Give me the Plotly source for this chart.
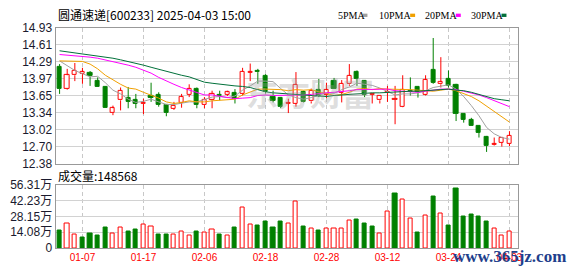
import plotly.graph_objects as go

# ---------------- data ----------------
dates = ["01-02", "01-03", "01-06", "01-07", "01-08", "01-09", "01-10", "01-13", "01-14", "01-15",
         "01-16", "01-17", "01-20", "01-21", "01-22", "01-23", "01-24", "01-27", "02-05", "02-06",
         "02-07", "02-10", "02-11", "02-12", "02-13", "02-14", "02-17", "02-18", "02-19", "02-20",
         "02-21", "02-24", "02-25", "02-26", "02-27", "02-28", "03-03", "03-04", "03-05", "03-06",
         "03-07", "03-10", "03-11", "03-12", "03-13", "03-14", "03-17", "03-18", "03-19", "03-20",
         "03-21", "03-24", "03-25", "03-26", "03-27", "03-28", "03-31", "04-01", "04-02", "04-03"]

opens = [14.20, 13.79, 14.04, 14.07, 14.09, 13.93, 13.82, 13.33, 13.57, 13.62,
         13.57, 13.50, 13.66, 13.67, 13.48, 13.41, 13.53, 13.67, 13.79, 13.48,
         13.57, 13.68, 13.68, 13.71, 13.69, 14.09, 14.12, 14.02, 13.64, 13.61,
         13.50, 13.51, 13.73, 13.55, 13.77, 13.67, 13.93, 13.71, 13.87, 14.10,
         13.93, 13.67, 13.57, 13.71, 13.58, 13.45, 13.74, 13.82, 13.68, 14.15,
         13.87, 13.97, 13.85, 13.31, 13.20, 13.08, 12.88, 12.73, 12.77, 12.75]
highs = [14.25, 14.16, 14.27, 14.18, 14.12, 14.00, 13.83, 13.47, 13.81, 13.82,
         13.69, 13.60, 13.90, 13.72, 13.48, 13.54, 13.69, 13.87, 13.81, 13.63,
         13.75, 13.75, 13.75, 13.78, 14.18, 14.26, 14.16, 14.06, 13.75, 13.63,
         13.60, 14.10, 13.75, 13.79, 13.97, 13.90, 13.99, 13.95, 14.25, 14.13,
         13.95, 13.69, 13.66, 13.84, 13.84, 14.04, 14.00, 13.82, 14.04, 14.74,
         14.38, 14.13, 13.88, 13.31, 13.24, 13.09, 12.90, 12.87, 12.87, 12.99]
lows = [13.69, 13.77, 13.93, 13.88, 13.84, 13.82, 13.42, 13.29, 13.38, 13.42,
        13.42, 13.31, 13.54, 13.45, 13.27, 13.39, 13.43, 13.63, 13.42, 13.42,
        13.42, 13.57, 13.65, 13.51, 13.66, 13.93, 13.88, 13.70, 13.53, 13.42,
        13.33, 13.45, 13.53, 13.51, 13.63, 13.61, 13.79, 13.53, 13.84, 13.84,
        13.63, 13.51, 13.51, 13.54, 13.12, 13.44, 13.66, 13.62, 13.66, 13.88,
        13.81, 13.81, 13.18, 13.15, 13.09, 12.87, 12.60, 12.72, 12.70, 12.71]
closes = [13.78, 14.04, 14.13, 14.10, 14.02, 13.82, 13.42, 13.42, 13.75, 13.54,
          13.51, 13.53, 13.62, 13.48, 13.33, 13.47, 13.63, 13.78, 13.48, 13.57,
          13.69, 13.66, 13.72, 13.60, 14.11, 14.10, 14.10, 13.72, 13.56, 13.45,
          13.52, 13.86, 13.54, 13.75, 13.66, 13.76, 13.79, 13.88, 14.03, 13.97,
          13.67, 13.69, 13.66, 13.73, 13.60, 13.76, 13.72, 13.72, 13.95, 13.90,
          13.91, 13.84, 13.32, 13.21, 13.09, 12.96, 12.71, 12.74, 12.86, 12.91]

ma5 = [14.31, 14.22, 14.13, 14.07, 14.01, 14.02, 13.90, 13.76, 13.69, 13.59,
       13.53, 13.55, 13.59, 13.54, 13.49, 13.49, 13.51, 13.54, 13.54, 13.59,
       13.63, 13.64, 13.62, 13.65, 13.76, 13.84, 13.93, 13.93, 13.92, 13.79,
       13.67, 13.62, 13.59, 13.62, 13.67, 13.71, 13.70, 13.77, 13.82, 13.89,
       13.87, 13.85, 13.80, 13.74, 13.67, 13.69, 13.69, 13.71, 13.75, 13.81,
       13.84, 13.86, 13.78, 13.64, 13.47, 13.28, 13.06, 12.94, 12.87, 12.84]
ma10 = [14.31, 14.31, 14.31, 14.30, 14.25, 14.16, 14.04, 13.95, 13.87, 13.80,
        13.78, 13.72, 13.67, 13.61, 13.54, 13.51, 13.53, 13.56, 13.54, 13.54,
        13.56, 13.57, 13.58, 13.59, 13.67, 13.73, 13.78, 13.78, 13.78, 13.77,
        13.75, 13.77, 13.76, 13.77, 13.73, 13.69, 13.66, 13.68, 13.72, 13.78,
        13.79, 13.77, 13.79, 13.78, 13.78, 13.78, 13.77, 13.76, 13.75, 13.74,
        13.76, 13.78, 13.75, 13.69, 13.64, 13.56, 13.46, 13.36, 13.25, 13.16]
ma20 = [14.43, 14.42, 14.41, 14.40, 14.38, 14.36, 14.33, 14.30, 14.26, 14.23,
        14.19, 14.14, 14.08, 14.00, 13.93, 13.87, 13.81, 13.76, 13.71, 13.67,
        13.67, 13.65, 13.63, 13.60, 13.61, 13.62, 13.66, 13.67, 13.66, 13.66,
        13.66, 13.67, 13.67, 13.68, 13.70, 13.71, 13.72, 13.73, 13.75, 13.77,
        13.77, 13.77, 13.77, 13.78, 13.75, 13.74, 13.72, 13.72, 13.74, 13.76,
        13.78, 13.78, 13.77, 13.74, 13.71, 13.67, 13.62, 13.56, 13.50, 13.45]
ma30 = [14.50, 14.48, 14.46, 14.44, 14.43, 14.41, 14.38, 14.36, 14.33, 14.30,
        14.27, 14.23, 14.19, 14.15, 14.11, 14.07, 14.04, 14.01, 13.96, 13.91,
        13.89, 13.87, 13.85, 13.84, 13.83, 13.81, 13.77, 13.73, 13.71, 13.70,
        13.70, 13.69, 13.67, 13.66, 13.65, 13.64, 13.66, 13.67, 13.68, 13.70,
        13.70, 13.71, 13.71, 13.72, 13.73, 13.74, 13.74, 13.74, 13.75, 13.76,
        13.77, 13.78, 13.76, 13.75, 13.72, 13.68, 13.63, 13.60, 13.58, 13.56]

# volume in 万 (10k)
volumes = [15.3, 21.9, 11.7, 9.4, 12.8, 11.1, 18.6, 12.8, 18.3, 14.7,
           16.1, 21.1, 19.4, 11.9, 11.9, 11.9, 14.4, 11.1, 14.7, 13.6,
           16.1, 11.9, 11.1, 18.0, 36.1, 21.1, 20.3, 23.6, 18.0, 23.6,
           21.9, 41.1, 19.4, 17.8, 15.5, 17.8, 17.8, 17.8, 24.4, 25.3,
           22.2, 19.4, 12.8, 32.2, 48.0, 43.3, 25.8, 13.9, 28.6, 45.5,
           30.8, 20.3, 52.8, 27.8, 29.4, 27.8, 23.6, 17.5, 11.1, 14.86]
# 1 = red (up vs previous close), 0 = green
vol_up = [0, 1, 1, 0, 0, 0, 0, 1, 1, 0,
          0, 1, 1, 0, 0, 1, 1, 1, 0, 1,
          1, 0, 1, 0, 1, 1, 0, 0, 0, 0,
          1, 1, 0, 1, 0, 1, 1, 1, 1, 0,
          0, 0, 1, 1, 0, 1, 1, 0, 1, 0,
          1, 0, 0, 0, 0, 0, 0, 1, 1, 1]

tick_every = 8
tick_first = 3
price_tick_labels = ["12.38", "12.70", "13.02", "13.34", "13.65", "13.97", "14.29", "14.61", "14.93"]
price_min, price_max = 12.38, 14.93
vol_tick_labels = ["0", "14.08万", "28.15万", "42.23万", "56.31万"]
vol_max = 56.31

title_text = "圆通速递[600233] 2025-04-03 15:00"
vol_title = "成交量:148568"
ma_names = ["5PMA", "10PMA", "20PMA", "30PMA"]

# ---------------- styles ----------------
RED = "#ff0000"
GREEN = "#008000"
MA_COLORS = ["#a0a0a0", "#f0a000", "#ff00ff", "#00703a"]
GRID = "#d2d2d2"
FRAME = "#999999"
LABEL = "#1a1a2e"

W, H = 578, 276
PX_L, PX_R = 56, 522
P_TOP, P_BOT = 22, 165
V_TOP, V_BOT = 187, 254


def fy(px):
    return (H - px) / H


n = len(dates)
idx = list(range(n))
up = [c >= o for o, c in zip(opens, closes)]

fig = go.Figure()

# wicks (split above and below the body so hollow bodies stay empty)
for want_up, col in ((True, RED), (False, GREEN)):
    wx, wy = [], []
    for i in idx:
        if up[i] != want_up:
            continue
        top = max(opens[i], closes[i])
        bot = min(opens[i], closes[i])
        wx += [i, i, None, i, i, None]
        wy += [highs[i], top, None, bot, lows[i], None]
    fig.add_trace(go.Scatter(x=wx, y=wy, mode="lines", line=dict(color=col, width=1),
                             hoverinfo="skip", xaxis="x", yaxis="y"))

# bodies
body_base = [min(o, c) for o, c in zip(opens, closes)]
body_h = [max(abs(c - o), 0.012) for o, c in zip(opens, closes)]
fig.add_trace(go.Bar(x=idx, y=body_h, base=body_base, width=0.55,
                     marker=dict(color=["white" if u else GREEN for u in up],
                                 line=dict(color=[RED if u else GREEN for u in up], width=1)),
                     xaxis="x", yaxis="y"))

# moving averages
for name, vals, col in zip(ma_names, [ma5, ma10, ma20, ma30], MA_COLORS):
    fig.add_trace(go.Scatter(x=idx, y=vals, mode="lines", name=name,
                             line=dict(color=col, width=1), xaxis="x", yaxis="y"))

# volume
fig.add_trace(go.Bar(x=idx, y=volumes, width=0.55,
                     marker=dict(color=["white" if u else GREEN for u in vol_up],
                                 line=dict(color=[RED if u else GREEN for u in vol_up], width=1)),
                     xaxis="x2", yaxis="y2"))

tick_idx = list(range(tick_first, n, tick_every))
tick_txt = [dates[i] for i in tick_idx]
step = (price_max - price_min) / (len(price_tick_labels) - 1)
price_ticks = [price_min + k * step for k in range(len(price_tick_labels))]
vstep = vol_max / (len(vol_tick_labels) - 1)
vol_ticks = [k * vstep for k in range(len(vol_tick_labels))]

xrange = [-0.52, n + 0.17]
xdom = [PX_L / W, PX_R / W]
common_x = dict(domain=xdom, range=xrange, tickvals=tick_idx, showgrid=True,
                gridcolor="#c8c8c8", griddash="4px,3px", gridwidth=1, zeroline=False,
                showline=True, mirror=True, linecolor=FRAME, linewidth=1, ticks="",
                fixedrange=True)

fig.update_layout(
    width=W, height=H, margin=dict(l=0, r=0, t=0, b=0),
    paper_bgcolor="white", plot_bgcolor="white", showlegend=False,
    barmode="overlay", bargap=0,
    xaxis=dict(**common_x, anchor="y", showticklabels=False),
    yaxis=dict(domain=[fy(P_BOT), fy(P_TOP)], range=[price_min, price_max],
               tickvals=price_ticks, ticktext=price_tick_labels, showgrid=True,
               gridcolor=GRID, gridwidth=1, zeroline=False, showline=True, mirror=True,
               linecolor=FRAME, linewidth=1, ticks="",
               tickfont=dict(family="Liberation Sans, Arial", size=12, color=LABEL),
               anchor="x"),
    xaxis2=dict(**common_x, anchor="y2", ticktext=tick_txt, showticklabels=True,
                tickfont=dict(family="Liberation Sans, Arial", size=10, color=RED)),
    yaxis2=dict(domain=[fy(V_BOT), fy(V_TOP)], range=[0, vol_max],
                tickvals=vol_ticks, ticktext=vol_tick_labels, showgrid=True,
                gridcolor=GRID, gridwidth=1, zeroline=False, showline=True, mirror=True,
                linecolor=FRAME, linewidth=1, ticks="",
                tickfont=dict(family="Liberation Sans, Noto Sans CJK SC", size=12, color=LABEL),
                anchor="x2"),
)

annotations = [
    dict(text=title_text, x=PX_L / W, y=fy(8), xref="paper", yref="paper",
         xanchor="left", yanchor="middle", showarrow=False,
         font=dict(family="Noto Sans CJK SC", size=12, color="black")),
    dict(text=vol_title, x=PX_L / W, y=fy(177), xref="paper", yref="paper",
         xanchor="left", yanchor="middle", showarrow=False,
         font=dict(family="Noto Sans CJK SC", size=12, color="black")),
    dict(text="<b>东方财富</b>", x=312 / W, y=fy(90), xref="paper", yref="paper",
         xanchor="center", yanchor="middle", showarrow=False,
         font=dict(family="Noto Sans CJK SC", size=32, color="rgba(160,160,160,0.35)")),
    dict(text="<b>www.365jz.com</b>", x=513 / W, y=fy(263), xref="paper", yref="paper",
         xanchor="center", yanchor="middle", showarrow=False,
         font=dict(family="Liberation Serif", size=17, color="#1e3f8c")),
]
legend_text_x = [338, 380, 426, 472]
legend_box_x = [365, 413, 459, 505]
shapes = []
for name, tx, bx, col in zip(ma_names, legend_text_x, legend_box_x, MA_COLORS):
    annotations.append(dict(text=name, x=tx / W, y=fy(9), xref="paper", yref="paper",
                            xanchor="left", yanchor="middle", showarrow=False,
                            font=dict(family="Liberation Serif", size=10, color="black")))
    shapes.append(dict(type="rect", xref="paper", yref="paper", x0=bx / W, x1=(bx + 5) / W,
                       y0=fy(10.5), y1=fy(7), fillcolor=col, line=dict(width=0)))
fig.update_layout(annotations=annotations, shapes=shapes)

fig.write_html("out.html")
